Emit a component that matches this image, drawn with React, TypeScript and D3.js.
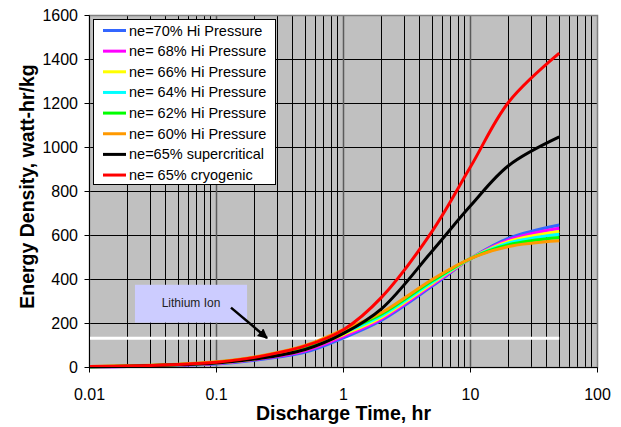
import React from 'react';
import * as d3 from 'd3';

// ---------- data ----------
const times = [0.01, 0.02, 0.05, 0.1, 0.2, 0.5, 1, 2, 5, 10, 20, 50];
const hp70 = [2, 4, 10, 16, 33, 70, 135, 215, 370, 495, 588, 648];
const hp68 = [2.4, 4.8, 11, 18, 36, 76, 142, 222, 376, 495, 580, 633];
const hp66 = [2.8, 5.6, 12, 20, 39, 82, 150, 229, 382, 495, 573, 618];
const hp64 = [3.2, 6.4, 13, 22, 42, 88, 157, 236, 388, 495, 566, 606];
const hp62 = [3.6, 7.2, 14, 24, 45, 94, 164, 243, 394, 495, 558, 591];
const hp60 = [4, 8, 15, 26, 48, 100, 172, 250, 400, 495, 550, 576];
const supercritical = [3, 6, 12, 20, 38, 82, 155, 268, 530, 735, 918, 1048];
const cryogenic = [4, 7, 14, 24, 46, 98, 172, 320, 620, 912, 1207, 1429];

const seriesNames = [
  'ne=70% Hi Pressure',
  'ne= 68% Hi Pressure',
  'ne= 66% Hi Pressure',
  'ne= 64% Hi Pressure',
  'ne= 62% Hi Pressure',
  'ne= 60% Hi Pressure',
  'ne=65% supercritical',
  'ne= 65% cryogenic',
];
const seriesValues = [hp70, hp68, hp66, hp64, hp62, hp60, supercritical, cryogenic];
const seriesColors = ['#3366FF', '#FF00FF', '#FFFF00', '#00FFFF', '#00FF00', '#FF9900', '#000000', '#FF0000'];

const lithiumIonValue = 133;
const lithiumIonRange = [0.01, 50];
const lithiumLabel = 'Lithium Ion';

const xTickValues = [0.01, 0.1, 1, 10, 100];
const xTickLabels = ['0.01', '0.1', '1', '10', '100'];
const yTickValues = [0, 200, 400, 600, 800, 1000, 1200, 1400, 1600];
const xTitle = 'Discharge Time, hr';
const yTitle = 'Energy Density, watt-hr/kg';

// ---------- layout ----------
const W = 621;
const H = 427;
const FONT = '"Liberation Sans", Arial, Helvetica, sans-serif';

export default function App() {
  const x = d3.scaleLog().domain([0.01, 100]).range([89.5, 597.5]);
  const y = d3.scaleLinear().domain([0, 1600]).range([367.5, 15.5]);
  const L = x(0.01);
  const R = x(100);
  const T = y(1600);
  const B = y(0);

  const minor: number[] = [];
  [0.01, 0.1, 1, 10].forEach((d) => {
    for (let k = 2; k <= 9; k++) minor.push(d * k);
  });

  const line = d3
    .line<[number, number]>()
    .x((d) => x(d[0]))
    .y((d) => y(d[1]))
    .curve(d3.curveCatmullRom.alpha(0.5));

  const crisp = (v: number) => Math.round(v - 0.5) + 0.5;

  // annotation (data units)
  const boxX0 = x(0.0228);
  const boxX1 = x(0.174);
  const boxY0 = y(376);
  const boxY1 = y(204);
  const arrowFrom = [x(0.13), y(272)];
  const arrowTo = [x(0.25), y(134)];

  // legend
  const legX = 93.5;
  const legY = 19.5;
  const legW = 182;
  const legH = 165;
  const rowH = 20.65;

  return (
    <svg
      width={W}
      height={H}
      style={{ position: 'absolute', left: 0, top: 0, background: '#fff' }}
      fontFamily={FONT}
    >
      <defs>
        <marker id="arr" viewBox="0 0 10 10" refX="9" refY="5" markerWidth="4" markerHeight="4" orient="auto">
          <path d="M0,0 L10,5 L0,10 z" fill="#000" />
        </marker>
      </defs>
      {/* plot area */}
      <rect x={L} y={T} width={R - L} height={B - T} fill="#C0C0C0" />
      {/* horizontal grid */}
      {yTickValues.map((v) => (
        <line key={'hg' + v} x1={L} x2={R} y1={crisp(y(v))} y2={crisp(y(v))} stroke="#000" strokeWidth={1} />
      ))}
      {/* minor vertical grid */}
      {minor.map((v) => (
        <line key={'vm' + v} x1={crisp(x(v))} x2={crisp(x(v))} y1={T} y2={B} stroke="#000" strokeWidth={1} />
      ))}
      {/* major vertical grid */}
      {xTickValues.slice(1, 4).map((v) => (
        <line key={'vM' + v} x1={x(v)} x2={x(v)} y1={T} y2={B} stroke="#5a5a5a" strokeWidth={1.5} />
      ))}
      {/* plot border */}
      <rect x={L} y={T} width={R - L} height={B - T} fill="none" stroke="#808080" strokeWidth={1.5} />

      {/* lithium ion line */}
      <line
        x1={x(lithiumIonRange[0])}
        x2={x(lithiumIonRange[1])}
        y1={y(lithiumIonValue)}
        y2={y(lithiumIonValue)}
        stroke="#fff"
        strokeWidth={3}
      />

      {/* series */}
      {seriesValues.map((vals, i) => (
        <path
          key={'s' + i}
          d={line(times.map((t, j) => [t, vals[j]]) as [number, number][]) || ''}
          fill="none"
          stroke={seriesColors[i]}
          strokeWidth={3}
          strokeLinejoin="round"
        />
      ))}

      {/* axes */}
      <line x1={L} x2={L} y1={T} y2={B + 0.5} stroke="#000" strokeWidth={1} />
      <line x1={L} x2={R} y1={B} y2={B} stroke="#000" strokeWidth={1} />
      {yTickValues.map((v) => (
        <g key={'yt' + v}>
          <line x1={L - 5} x2={L} y1={crisp(y(v))} y2={crisp(y(v))} stroke="#000" />
          <text x={78} y={y(v) + 5.8} textAnchor="end" fontSize={16} fill="#000">
            {v}
          </text>
        </g>
      ))}
      {xTickValues.map((v, i) => (
        <g key={'xt' + v}>
          <line x1={crisp(x(v))} x2={crisp(x(v))} y1={B} y2={B + 5} stroke="#000" />
          <text x={x(v)} y={400} textAnchor="middle" fontSize={16} fill="#000">
            {xTickLabels[i]}
          </text>
        </g>
      ))}
      <text x={(L + R) / 2} y={420} textAnchor="middle" fontSize={19.5} fontWeight="bold" fill="#000">
        {xTitle}
      </text>
      <text
        transform={`translate(34,${(T + B) / 2 - 5}) rotate(-90)`}
        textAnchor="middle"
        fontSize={19.5}
        fontWeight="bold"
        fill="#000"
      >
        {yTitle}
      </text>

      {/* lithium ion annotation */}
      <rect x={boxX0} y={boxY0} width={boxX1 - boxX0} height={boxY1 - boxY0} fill="#CCCCFF" />
      <text x={(boxX0 + boxX1) / 2} y={(boxY0 + boxY1) / 2 + 3} textAnchor="middle" fontSize={12} fill="#222">
        {lithiumLabel}
      </text>
      <line
        x1={arrowFrom[0]}
        y1={arrowFrom[1]}
        x2={arrowTo[0]}
        y2={arrowTo[1]}
        stroke="#000"
        strokeWidth={2.5}
        markerEnd="url(#arr)"
      />

      {/* legend */}
      <rect x={legX} y={legY} width={legW} height={legH} fill="#fff" stroke="#000" strokeWidth={1} />
      {seriesNames.map((n, i) => {
        const cy = legY + 11 + i * rowH;
        return (
          <g key={'lg' + i}>
            <line x1={103} x2={126} y1={cy} y2={cy} stroke={seriesColors[i]} strokeWidth={3} />
            <text x={129} y={cy + 5} fontSize={14.5} fill="#000">
              {n}
            </text>
          </g>
        );
      })}
    </svg>
  );
}
